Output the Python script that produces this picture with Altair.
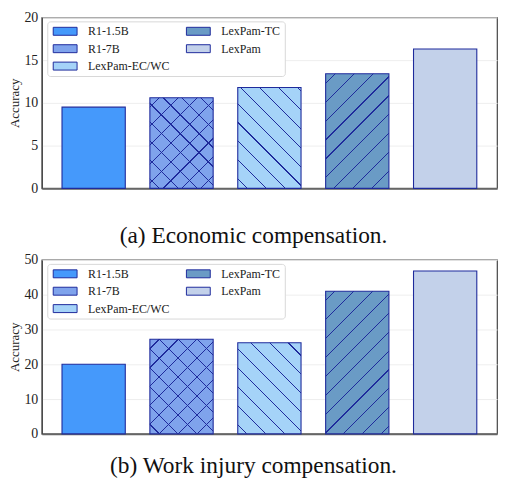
import altair as alt
import pandas as pd

models = ["R1-1.5B", "R1-7B", "LexPam-EC/WC", "LexPam-TC", "LexPam"]
econ = [9.5, 10.6, 11.8, 13.4, 16.3]
work = [20.0, 27.2, 26.2, 41.0, 46.8]
colors = ["#4599fb", "#7fa3ec", "#a5d3f8", "#6a9bc5", "#c3d1ea"]
captions = ["(a) Economic compensation.", "(b) Work injury compensation."]
# hatch styles per model ("back" = \ lines, "fwd" = / lines)
hatches = {"R1-7B": ["back", "fwd"], "LexPam-EC/WC": ["back"], "LexPam-TC": ["fwd"]}

SERIF = "Liberation Serif, Times New Roman, Times, serif"
STROKE = "#1f2b9c"
CLEAR = "rgba(31,43,156,0)"

WIDTH = 458
P_IN, P_OUT = 0.28, 0.23
STEP = WIDTH / (len(models) - P_IN + 2 * P_OUT)
BAR_W = STEP * (1 - P_IN)


def hatch_gradient(w, h, kind, spacing=19.0, half=0.6):
    L = w + h
    k = L / (w * w + h * h)
    if kind == "back":
        x1, y1, x2, y2 = 0, 1, k * w, 1 - k * h
    else:
        x1, y1, x2, y2 = 0, 0, k * w, k * h
    stops = [(0.0, CLEAR)]
    q = spacing / 2
    while q < L:
        a = max((q - half) / L, 0.0)
        b = min((q + half) / L, 1.0)
        stops += [(a, CLEAR), (a, STROKE), (b, STROKE), (b, CLEAR)]
        q += spacing
    stops.append((1.0, CLEAR))
    return alt.Gradient(gradient="linear", x1=x1, y1=y1, x2=x2, y2=y2,
                        stops=[alt.GradientStop(offset=o, color=c) for o, c in stops])


def panel(vals, ymax, ystep, caption, cap_offset, h):
    df = pd.DataFrame({"model": models, "acc": vals})
    x = alt.X("model:N", sort=models,
              scale=alt.Scale(paddingInner=P_IN, paddingOuter=P_OUT),
              axis=alt.Axis(labels=False, ticks=False, title=None,
                            domainColor="#666", domainWidth=2))
    y = alt.Y("acc:Q", scale=alt.Scale(domain=[0, ymax], nice=False),
              axis=alt.Axis(values=list(range(0, ymax + 1, ystep)), title="Accuracy",
                            ticks=False, labelFont=SERIF, labelFontSize=14,
                            labelColor="#222", labelPadding=4,
                            titleFont=SERIF, titleFontSize=13, titleFontWeight="normal",
                            titleColor="#222", titlePadding=2,
                            domainColor="#444", domainWidth=1.2,
                            gridColor="#eeeeee"))
    base = alt.Chart(df).mark_bar(stroke=STROKE, strokeWidth=1.1).encode(
        x=x, y=y,
        color=alt.Color("model:N",
                        scale=alt.Scale(domain=models, range=colors),
                        legend=alt.Legend(title=None, orient="none", legendX=5.5, legendY=4,
                                          columns=2, columnPadding=15, rowPadding=5.5,
                                          symbolType="M-1,-1H5V1H-1Z", symbolSize=64,
                                          symbolStrokeColor=STROKE, symbolStrokeWidth=1,
                                          symbolOpacity=1,
                                          labelFont=SERIF, labelFontSize=12, labelColor="#222",
                                          labelOffset=25, padding=4,
                                          fillColor="white", strokeColor="#d8d8d8",
                                          cornerRadius=3)),
    )
    layers = [base]
    for m, v in zip(models, vals):
        for kind in hatches.get(m, []):
            bh = v / ymax * h
            layers.append(
                alt.Chart(df).transform_filter(alt.datum.model == m).mark_bar(
                    fill=hatch_gradient(BAR_W, bh, kind), strokeWidth=0, strokeOpacity=0
                ).encode(x=x, y=y)
            )
    return alt.layer(*layers).properties(
        width=WIDTH, height=h,
        title=alt.TitleParams(caption, orient="bottom", font=SERIF, fontSize=23.5,
                              fontWeight="normal", color="#111", offset=cap_offset, dx=-16),
    )


chart = alt.vconcat(
    panel(econ, 20, 5, captions[0], 29, 172),
    panel(work, 50, 10, captions[1], 13, 175),
    spacing=3,
).resolve_scale(color="independent").properties(
    padding={"left": 0, "top": 0, "right": 0, "bottom": 0}
).configure_view(stroke="#444", strokeWidth=1.2)

chart.save("out.html", embed_options={"renderer": "svg", "actions": False})
